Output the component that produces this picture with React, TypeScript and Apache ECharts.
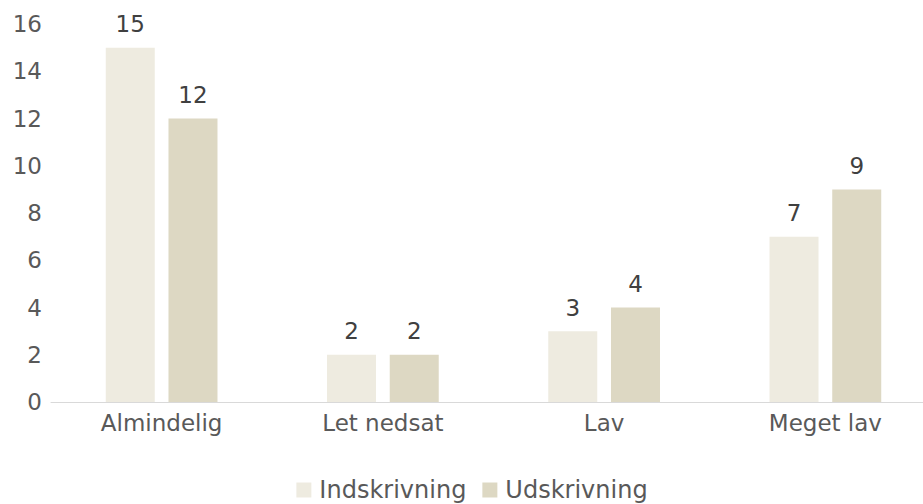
import React, { useEffect, useRef } from "react";
import * as echarts from "echarts";

const categories = ["Almindelig", "Let nedsat", "Lav", "Meget lav"];
const indskrivning = [15, 2, 3, 7];
const udskrivning = [12, 2, 4, 9];
const seriesNames = ["Indskrivning", "Udskrivning"];

export default function App() {
  const ref = useRef<HTMLDivElement>(null);
  useEffect(() => {
    if (!ref.current) return;
    const chart = echarts.init(ref.current, undefined, { renderer: "svg" });
    const font = "DejaVu Sans, Verdana, sans-serif";
    chart.setOption({
      animation: false,
      grid: { left: 51, top: 24, right: 8, height: 378 },
      legend: {
        top: 473,
        left: "center",
        itemWidth: 15,
        itemHeight: 15,
        itemGap: 16,
        icon: "rect",
        textStyle: { color: "#595959", fontSize: 24, fontFamily: font, padding: [0, 0, 0, 3] },
        data: seriesNames,
      },
      xAxis: {
        type: "category",
        data: categories,
        axisLine: { lineStyle: { color: "#d9d9d9", width: 1 } },
        axisTick: { show: false },
        axisLabel: { color: "#595959", fontSize: 23, fontFamily: font, margin: 9 },
      },
      yAxis: {
        type: "value",
        min: 0,
        max: 16,
        interval: 2,
        splitLine: { show: false },
        axisLine: { show: false },
        axisTick: { show: false },
        axisLabel: { color: "#595959", fontSize: 23, fontFamily: font, margin: 9 },
      },
      series: [
        {
          name: seriesNames[0],
          type: "bar",
          data: indskrivning,
          barWidth: 49,
          barGap: "28%",
          itemStyle: { color: "#EEEBE0" },
          label: { show: true, position: "top", distance: 12, color: "#404040", fontSize: 23, fontFamily: font },
        },
        {
          name: seriesNames[1],
          type: "bar",
          data: udskrivning,
          barWidth: 49,
          barGap: "28%",
          itemStyle: { color: "#DDD8C3" },
          label: { show: true, position: "top", distance: 12, color: "#404040", fontSize: 23, fontFamily: font },
        },
      ],
    });
    return () => chart.dispose();
  }, []);
  return (
    <div style={{ position: "absolute", left: 0, top: 0, width: 923, height: 504, overflow: "hidden" }}>
      <div ref={ref} style={{ width: 944, height: 504 }} />
    </div>
  );
}
